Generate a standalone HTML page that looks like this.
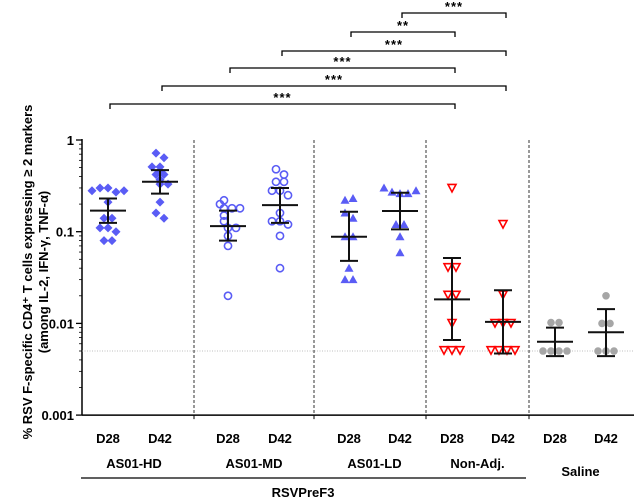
<!DOCTYPE html>
<html><head><meta charset="utf-8">
<style>
html,body{margin:0;padding:0;background:#fff;}
svg{display:block;font-family:"Liberation Sans",Arial,sans-serif;}
</style></head>
<body>
<svg id="chart" width="634" height="499" viewBox="0 0 634 499" xmlns="http://www.w3.org/2000/svg">
<g id="axes"></g>
<g id="marks"></g>
<g id="sig"></g>
<text transform="translate(32,272) rotate(-90)" text-anchor="middle" font-size="13" font-weight="bold">% RSV F-specific CD4⁺ T cells expressing ≥ 2 markers</text>
<text transform="translate(48,272) rotate(-90)" text-anchor="middle" font-size="13" font-weight="bold">(among IL-2, IFN-γ, TNF-α)</text>
</svg>
<script>
const categories = ["D28","D42","D28","D42","D28","D42","D28","D42","D28","D42"];
const groupLabels = ["AS01-HD","AS01-MD","AS01-LD","Non-Adj.","Saline"];
const yTickLabels = ["1","0.1","0.01","0.001"];
const yTickValues = [1,0.1,0.01,0.001];
const hdD28 = [0.28,0.30,0.30,0.27,0.28,0.21,0.14,0.14,0.11,0.11,0.10,0.08,0.08];
const hdD42 = [0.72,0.64,0.51,0.51,0.46,0.42,0.42,0.37,0.33,0.33,0.21,0.16,0.14];
const mdD28 = [0.22,0.20,0.18,0.18,0.18,0.15,0.13,0.11,0.11,0.09,0.07,0.02];
const mdD42 = [0.48,0.42,0.35,0.35,0.28,0.28,0.25,0.16,0.13,0.13,0.12,0.09,0.04];
const ldD28 = [0.22,0.23,0.16,0.14,0.088,0.088,0.04,0.03,0.03];
const ldD42 = [0.30,0.27,0.26,0.26,0.28,0.12,0.12,0.088,0.059];
const naD28 = [0.30,0.041,0.041,0.0205,0.0205,0.0101,0.0051,0.0051,0.0051];
const naD42 = [0.121,0.0206,0.0101,0.0101,0.0101,0.0051,0.0051,0.0051,0.0051];
const salD28 = [0.0102,0.0102,0.005,0.005,0.005,0.005];
const salD42 = [0.020,0.010,0.010,0.005,0.005,0.005];
const means = [0.17,0.35,0.115,0.195,0.088,0.168,0.0183,0.0104,0.0063,0.008];
const errLow = [0.125,0.26,0.08,0.125,0.048,0.106,0.0066,0.0047,0.0044,0.0044];
const errHigh = [0.23,0.47,0.17,0.30,0.165,0.266,0.0517,0.023,0.009,0.0143];
const comparisons = [[0,6],[1,7],[2,6],[3,7],[4,6],[5,7]];
const compLabels = ["***","***","***","***","**","***"];
const lodValue = 0.005;

const series=[hdD28,hdD42,mdD28,mdD42,ldD28,ldD42,naD28,naD42,salD28,salD42];
const markers=["diamond","diamond","circle","circle","tri","tri","dtri","dtri","dot","dot"];
const catX=[108,160,228,280,349,400,452,503,555,606];
const NS="http://www.w3.org/2000/svg";
const Y0=140, DEC=91.7;
function y(v){return Y0-Math.log10(v)*DEC;}
function x(i){return catX[i];}
function mk(tag,attrs,parent){const e=document.createElementNS(NS,tag);for(const k in attrs)e.setAttribute(k,attrs[k]);parent.appendChild(e);return e;}
const axes=document.getElementById('axes'),marks=document.getElementById('marks'),sig=document.getElementById('sig');

let a=mk('line',{x1:82,y1:y(1)-1,x2:82,y2:y(0.001),stroke:'#000','stroke-width':1.5},axes);

yTickValues.forEach((v,i)=>{
  let t=mk('line',{x1:76,x2:82,y1:y(v),y2:y(v),stroke:'#000','stroke-width':1.3},axes);
  
  let l=mk('text',{x:74,y:y(v)+5,'text-anchor':'end','font-size':13,'font-weight':'bold'},axes);
  l.textContent=yTickLabels[i];
  
  if(i<3){for(let m=2;m<=9;m++){let vv=v/10*m;mk('line',{x1:79,x2:82,y1:y(vv),y2:y(vv),stroke:'#000','stroke-width':0.8},axes);}}
});
a=mk('line',{x1:82,y1:y(0.001),x2:634,y2:y(0.001),stroke:'#000','stroke-width':1.5},axes);

[194,314,426,529].forEach(dx=>{
  let d=mk('line',{x1:dx,x2:dx,y1:y(1),y2:y(0.001),stroke:'#333','stroke-width':1,'stroke-dasharray':'3,2'},axes);
  
  mk('line',{x1:dx,x2:dx,y1:y(0.001),y2:y(0.001)+4,stroke:'#000','stroke-width':1},axes);
});
let lod=mk('line',{x1:82,x2:634,y1:y(lodValue),y2:y(lodValue),stroke:'#aaa','stroke-width':0.8,'stroke-dasharray':'1,1.5'},axes);

categories.forEach((c,i)=>{
  let t=mk('text',{x:x(i),y:443,'text-anchor':'middle','font-size':13,'font-weight':'bold'},axes);
  t.textContent=c;
  
});
const gY=[468,468,468,468,476];
groupLabels.forEach((g,i)=>{
  let t=mk('text',{x:(x(2*i)+x(2*i+1))/2,y:gY[i],'text-anchor':'middle','font-size':13,'font-weight':'bold'},axes);
  t.textContent=g;
  
});
let gl=mk('line',{x1:81,x2:526,y1:478,y2:478,stroke:'#000','stroke-width':1.2},axes);

let rt=mk('text',{x:303,y:497,'text-anchor':'middle','font-size':13,'font-weight':'bold'},axes);
rt.textContent='RSVPreF3';

function spread(vals){
  return vals.map((v,k)=>{const yy=y(v);const grp=vals.map(y).map((u,j)=>[u,j]).filter(p=>Math.abs(p[0]-yy)<7);const idx=grp.findIndex(p=>p[1]===k);const n=grp.length;return (idx-(n-1)/2)*8;});
}
series.forEach((vals,i)=>{
  const off=spread(vals);const m=markers[i];
  vals.forEach((v,k)=>{
    const cx=x(i)+off[k],cy=y(v);let e;
    if(m==='diamond')e=mk('polygon',{points:`${cx},${cy-4.5} ${cx+4.5},${cy} ${cx},${cy+4.5} ${cx-4.5},${cy}`,fill:'#5a5cf5'},marks);
    else if(m==='circle')e=mk('circle',{cx:cx,cy:cy,r:3.6,fill:'none',stroke:'#5a5cf5','stroke-width':1.6},marks);
    else if(m==='tri')e=mk('polygon',{points:`${cx},${cy-4.5} ${cx+4.5},${cy+3.5} ${cx-4.5},${cy+3.5}`,fill:'#5a5cf5'},marks);
    else if(m==='dtri')e=mk('polygon',{points:`${cx-4},${cy-3.5} ${cx+4},${cy-3.5} ${cx},${cy+4}`,fill:'none',stroke:'#f00','stroke-width':1.6},marks);
    else e=mk('circle',{cx:cx,cy:cy,r:3.8,fill:'#a6a6a6'},marks);
    
  });
  const cx=x(i);
  let ml=mk('line',{x1:cx-18,x2:cx+18,y1:y(means[i]),y2:y(means[i]),stroke:'#111','stroke-width':2},marks);
  
  let el=mk('line',{x1:cx,x2:cx,y1:y(errHigh[i]),y2:y(errLow[i]),stroke:'#111','stroke-width':2},marks);
  
  mk('line',{x1:cx-9,x2:cx+9,y1:y(errHigh[i]),y2:y(errHigh[i]),stroke:'#111','stroke-width':2},marks);
  mk('line',{x1:cx-9,x2:cx+9,y1:y(errLow[i]),y2:y(errLow[i]),stroke:'#111','stroke-width':2},marks);
});

const bY=[104,86,68,51,32,13];
comparisons.forEach((c,i)=>{
  const x1=x(c[0])+2,x2=x(c[1])+3,yy=bY[i];
  let p=mk('path',{d:`M${x1},${yy+5}V${yy}H${x2}V${yy+5}`,fill:'none',stroke:'#000','stroke-width':1.3},sig);
  
  let t=mk('text',{x:(x1+x2)/2,y:yy-2,'text-anchor':'middle','font-size':13,'font-weight':'bold','letter-spacing':'1'},sig);
  t.textContent=compLabels[i];
  
});
</script>
</body></html>
